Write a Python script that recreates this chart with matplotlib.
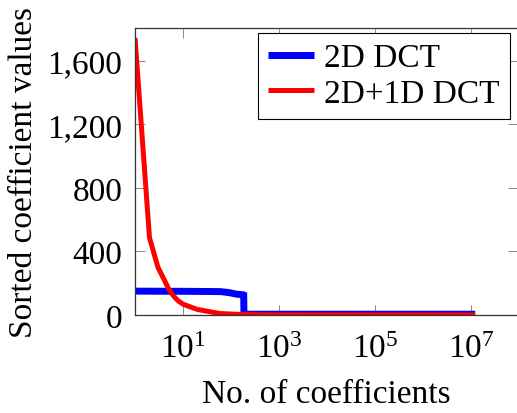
import matplotlib
matplotlib.use("Agg")
import matplotlib.pyplot as plt
from matplotlib.ticker import FuncFormatter, NullLocator, FixedLocator

plt.rcParams["font.family"] = ["Liberation Serif", "DejaVu Serif"]
plt.rcParams["mathtext.fontset"] = "custom"
plt.rcParams["mathtext.rm"] = "Liberation Serif"
plt.rcParams["mathtext.it"] = "Liberation Serif:italic"
plt.rcParams["mathtext.default"] = "regular"

# Sorted coefficient magnitudes versus coefficient count
dct2d_n = [1, 10, 30, 60, 90, 130, 180, 183, 185, 1.2e7]
dct2d_vals = [150, 149, 148, 147, 141, 131, 127, 126, 5, 5]

dct3d_n = [1, 2, 3, 4, 5, 6, 7, 8, 10, 13, 16, 20, 30, 45, 60, 100, 150,
           400, 1000, 1.2e7]
dct3d_vals = [1743, 487, 300, 225, 165, 130, 105, 88, 68, 55, 45, 35, 25,
              15, 9, 6, 4, 2, 1, 0.5]

series_labels = ["2D DCT", "2D+1D DCT"]
x_ticks = [1e1, 1e3, 1e5, 1e7]
y_ticks = [0, 400, 800, 1200, 1600]

FS = 24

fig = plt.figure(figsize=(5.17, 4.14), dpi=100)
ax = fig.add_axes([135 / 517, 1 - 316 / 414, 383 / 517, 287 / 414])

ax.plot(dct2d_n, dct2d_vals, color="#0000ff", lw=5.0, label=series_labels[0],
        solid_capstyle="butt", solid_joinstyle="miter")
ax.plot(dct3d_n, dct3d_vals, color="#ff0000", lw=3.6, label=series_labels[1],
        solid_capstyle="butt", solid_joinstyle="round")

ax.set_xscale("log")
ax.set_xlim(1, 10 ** 7.97)
ax.set_ylim(0, 1805)

ax.xaxis.set_major_locator(FixedLocator(x_ticks))
ax.xaxis.set_minor_locator(NullLocator())
ax.yaxis.set_major_locator(FixedLocator(y_ticks))
ax.yaxis.set_major_formatter(FuncFormatter(lambda v, p: f"{v:,.0f}"))

for sp in ax.spines.values():
    sp.set_color("#333333")
    sp.set_linewidth(0.9)

ax.tick_params(axis="both", which="major", direction="in", length=7,
               width=0.7, color="#888888", labelsize=FS,
               top=True, right=True)
ax.tick_params(axis="y", pad=9)
ax.tick_params(axis="x", pad=13)

ax.set_xlabel("No. of coefficients", fontsize=FS, labelpad=11)
ax.set_ylabel("Sorted coefficient values", fontsize=FS, labelpad=6)

leg = ax.legend(loc="upper right", bbox_to_anchor=(0.979, 0.983),
                fontsize=FS, frameon=True, fancybox=False, framealpha=1,
                edgecolor="#000000", borderpad=0.3, labelspacing=0.15,
                handlelength=1.4, handletextpad=0.3, borderaxespad=0)
leg.get_frame().set_linewidth(0.8)

fig.savefig("out.png", dpi=100)
